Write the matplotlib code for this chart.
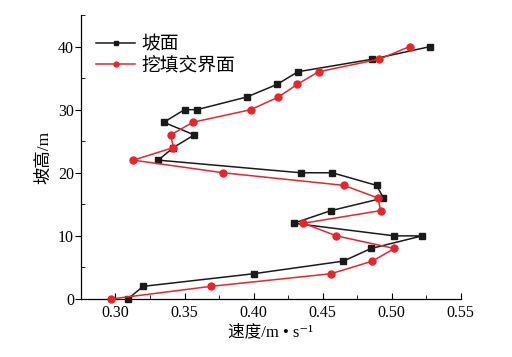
import matplotlib
matplotlib.use("Agg")
import matplotlib.pyplot as plt
from matplotlib.ticker import MultipleLocator

plt.rcParams['font.family'] = ['Liberation Serif', 'Noto Sans CJK SC', 'DejaVu Sans']

slope_x = [0.309, 0.320, 0.400, 0.465, 0.485, 0.522, 0.502, 0.429, 0.456, 0.494, 0.489,
           0.457, 0.434, 0.331, 0.342, 0.357, 0.335, 0.350, 0.359, 0.395, 0.417, 0.432,
           0.486, 0.528]
slope_y = [0, 2, 4, 6, 8, 10, 10, 12, 14, 16, 18, 20, 20, 22, 24, 26, 28, 30, 30, 32, 34, 36,
           38, 40]

cut_x = [0.297, 0.369, 0.456, 0.486, 0.502, 0.460, 0.436, 0.492, 0.490, 0.4655, 0.378,
         0.313, 0.342, 0.340, 0.356, 0.398, 0.418, 0.4315, 0.447, 0.491, 0.513]
cut_y = [0, 2, 4, 6, 8, 10, 12, 14, 16, 18, 20, 22, 24, 26, 28, 30, 32, 34, 36, 38, 40]

labels = ['坡面', '挖填交界面']
xticks = [0.30, 0.35, 0.40, 0.45, 0.50, 0.55]
xticklabels = ['0.30', '0.35', '0.40', '0.45', '0.50', '0.55']

fig = plt.figure(figsize=(5.12, 3.57), dpi=100)
ax = fig.add_axes([0.158, 0.1625, 0.742, 0.7955])

ax.plot(slope_x, slope_y, color='#1a1a1a', marker='s', markersize=5, linewidth=1.1,
        label=labels[0], clip_on=False, zorder=3)
ax.plot(cut_x, cut_y, color='#e8252b', marker='o', markersize=5, linewidth=1.1,
        label=labels[1], clip_on=False, zorder=3)

ax.set_xlim(0.275, 0.55)
ax.set_ylim(0, 45)
ax.set_xticks(xticks)
ax.set_xticklabels(xticklabels)
ax.xaxis.set_minor_locator(MultipleLocator(0.025))
ax.yaxis.set_major_locator(MultipleLocator(10))
ax.yaxis.set_minor_locator(MultipleLocator(5))
ax.tick_params(axis='x', which='both', direction='in', labelsize=11.5, pad=4)
ax.tick_params(axis='x', which='major', length=4)
ax.tick_params(axis='x', which='minor', length=3)
ax.tick_params(axis='y', which='major', direction='out', length=4, labelsize=11.5, pad=1)
ax.tick_params(axis='y', which='minor', direction='in', length=3)

for s in ['top', 'right']:
    ax.spines[s].set_visible(False)
for s in ['left', 'bottom']:
    ax.spines[s].set_linewidth(0.9)

ax.set_xlabel('速度/m • s⁻¹', fontsize=12, labelpad=3)
ax.set_ylabel('坡高/m', fontsize=12.5, labelpad=4)

leg = ax.legend(loc='upper left', bbox_to_anchor=(0.005, 0.97), frameon=False, fontsize=13.5,
                handlelength=2.1, handletextpad=0.3, labelspacing=0.2, markerscale=0.7,
                borderaxespad=0.3)

fig.savefig('out.png', dpi=100)
